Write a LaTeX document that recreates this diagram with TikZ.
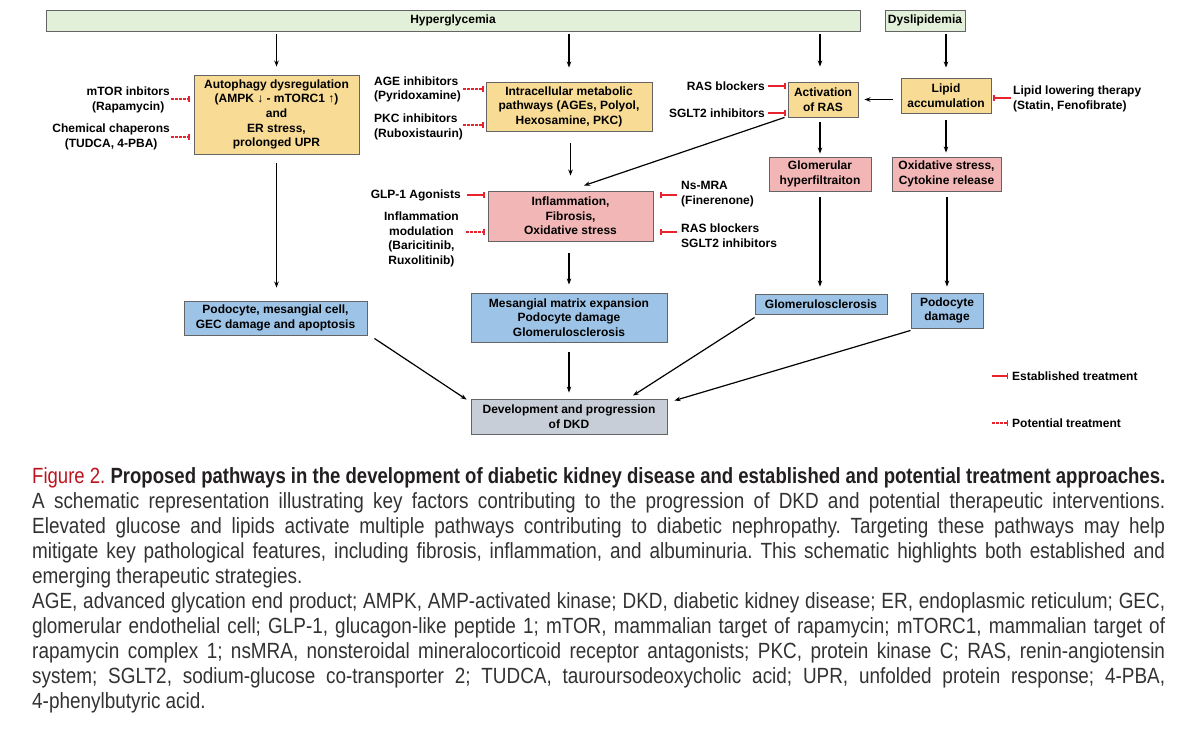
\documentclass[tikz,border=0pt]{standalone}
\usepackage{fontspec}
\setmainfont{Liberation Sans}
\usepackage{graphicx}
\usetikzlibrary{arrows.meta}
\definecolor{hgreen}{RGB}{226,240,217}
\definecolor{tanf}{RGB}{248,219,148}
\definecolor{pinkf}{RGB}{242,182,182}
\definecolor{bluef}{RGB}{157,195,230}
\definecolor{dkdf}{RGB}{200,206,216}
\definecolor{bordc}{RGB}{100,100,100}
\definecolor{inhred}{RGB}{232,35,45}
\definecolor{figred}{RGB}{190,20,30}
\definecolor{captxt}{RGB}{50,50,50}
\definecolor{titletxt}{RGB}{35,31,32}
\newcommand\dfont{\bfseries\fontsize{12}{14.6}\selectfont}
\newcommand\capf{\fontsize{22}{25}\selectfont\frenchspacing}
\newcommand\jline[1]{\scalebox{0.86}[1]{\makebox[1317.4pt][s]{#1}}}
\newcommand\nline[1]{\scalebox{0.86}[1]{#1}}
\begin{document}
\begin{tikzpicture}[x=1pt,y=-1pt,
  box/.style={draw=bordc, line width=0.9pt, inner sep=0pt, align=center, font=\dfont, text=black},
  lab/.style={inner sep=0pt, font=\dfont, text=black},
  arr/.style={draw=black, line width=1.2pt, -{Stealth[length=6pt,width=4.5pt]}},
  inh/.style={draw=inhred, line width=1.2pt, -{Bar[width=6pt,line width=1.2pt]}},
  inhd/.style={inh, dash pattern=on 2.5pt off 1.6pt},
  capnode/.style={inner sep=0pt, anchor=base west, font=\capf, text=captxt}]
\useasboundingbox[fill=white] (0,0) rectangle (1200,750);

% boxes
\node[box, fill=hgreen, minimum width=814pt, minimum height=21pt] (hyper) at (453,20.5) {Hyperglycemia};
\node[box, fill=hgreen, minimum width=80pt, minimum height=21pt] (dys) at (925,20.5) {Dyslipidemia};
\node[box, fill=tanf, minimum width=165pt, minimum height=79pt] (auto) at (276.5,114.5) {Autophagy dysregulation\\(AMPK ↓ - mTORC1 ↑)\\and\\ER stress,\\prolonged UPR};
\node[box, fill=tanf, minimum width=166pt, minimum height=49pt] (intra) at (569,106.5) {Intracellular metabolic\\pathways (AGEs, Polyol,\\Hexosamine, PKC)};
\node[box, fill=pinkf, minimum width=165pt, minimum height=50pt] (infl) at (570.5,216) {Inflammation,\\Fibrosis,\\Oxidative stress};
\node[box, fill=tanf, minimum width=70pt, minimum height=35pt] (ras) at (823,99.5) {Activation\\of RAS};
\node[box, fill=tanf, minimum width=90pt, minimum height=35pt] (lipid) at (946,95.5) {Lipid\\accumulation};
\node[box, fill=pinkf, minimum width=102pt, minimum height=34pt] (glom) at (820,174) {Glomerular\\hyperfiltraiton};
\node[box, fill=pinkf, minimum width=109pt, minimum height=34pt] (oxid) at (946.5,174) {Oxidative stress,\\Cytokine release};
\node[box, fill=bluef, minimum width=183pt, minimum height=34pt] (podo1) at (275.5,318) {Podocyte, mesangial cell,\\GEC damage and apoptosis};
\node[box, fill=bluef, minimum width=196pt, minimum height=49pt] (mesang) at (569,317.5) {Mesangial matrix expansion\\Podocyte damage\\Glomerulosclerosis};
\node[box, fill=bluef, minimum width=132pt, minimum height=20pt] (glscl) at (821,304) {Glomerulosclerosis};
\node[box, fill=bluef, minimum width=72pt, minimum height=35pt] (podo2) at (947,310.5) {Podocyte\\damage};
\node[box, fill=dkdf, minimum width=196pt, minimum height=35pt] (dkd) at (569,416.5) {Development and progression\\of DKD};

% treatment labels
\node[lab, align=center, anchor=east] (lMtor) at (170,100) {mTOR inbitors\\(Rapamycin)};
\node[lab, align=center, anchor=east] (lChem) at (170,137) {Chemical chaperons\\(TUDCA, 4-PBA)};
\node[lab, align=left, anchor=west] (lAge) at (374,89.5) {AGE inhibitors\\(Pyridoxamine)};
\node[lab, align=left, anchor=west] (lPkc) at (374,127) {PKC inhibitors\\(Ruboxistaurin)};
\node[lab, anchor=east] (lGlp) at (461,195) {GLP-1 Agonists};
\node[lab, align=center, anchor=east] (lInf) at (459,239.5) {Inflammation\\modulation\\(Baricitinib,\\Ruxolitinib)};
\node[lab, align=left, anchor=west] (lMra) at (681,194) {Ns-MRA\\(Finerenone)};
\node[lab, align=left, anchor=west] (lRb) at (681,235.5) {RAS blockers\\SGLT2 inhibitors};
\node[lab, anchor=east] (lRas) at (765,86) {RAS blockers};
\node[lab, anchor=east] (lSg) at (765,113) {SGLT2 inhibitors};
\node[lab, align=left, anchor=west] (lLip) at (1013,99) {Lipid lowering therapy\\(Statin, Fenofibrate)};

% black arrows
\draw[arr, shorten <=2.5pt, shorten >=8pt] (auto.north |- hyper.south) -- (auto.north);
\draw[arr, shorten <=2.5pt, shorten >=14pt] (intra.north |- hyper.south) -- (intra.north);
\draw[arr, shorten <=2.5pt, shorten >=15pt] (glom.north |- hyper.south) -- (glom.north |- ras.north);
\draw[arr, shorten <=2.5pt, shorten >=10pt] (lipid.north |- dys.south) -- (lipid.north);
\draw[arr, shorten <=9pt, shorten >=13pt] (auto.south) -- (podo1.north -| auto.south);
\draw[arr, shorten <=12pt, shorten >=15pt] (intra.south -| infl.north) -- (infl.north);
\draw[arr, shorten <=12pt, shorten >=8pt] (infl.south -| mesang.north) -- (mesang.north);
\draw[arr, shorten <=10pt, shorten >=6pt] (mesang.south) -- (dkd.north);
\draw[arr, shorten <=5pt, shorten >=3pt] (glom.north |- ras.south) -- (glom.north);
\draw[arr, shorten <=7pt, shorten >=4pt] (lipid.south) -- (lipid.south |- oxid.north);
\draw[arr, shorten <=6pt, shorten >=7pt] (glom.south) -- (glom.south |- glscl.north);
\draw[arr, shorten <=6pt, shorten >=6pt] (podo2.north |- oxid.south) -- (podo2.north);
\draw[arr, shorten <=8pt, shorten >=6pt] (lipid.west |- ras.east) -- (ras.east);
\draw[arr] ([xshift=-3pt]ras.south west) -- ([xshift=13.5pt,yshift=5pt]infl.north);
\draw[arr] ([xshift=7pt,yshift=-3pt]podo1.south east) -- ([xshift=-4pt,yshift=-1pt]dkd.north west);
\draw[arr] ([yshift=-3pt]glscl.south west) -- ([xshift=64pt,yshift=3pt]dkd.north);
\draw[arr] ([yshift=-2pt]podo2.south west) -- ([xshift=7pt,yshift=-2pt]dkd.north east);

% inhibitors
\coordinate (iMtor) at (171,99);
\coordinate (iChem) at (171,137);
\coordinate (iAge) at (463,89);
\coordinate (iPkc) at (463,125);
\coordinate (iGlp) at (467,195);
\coordinate (iInf) at (466,232);
\coordinate (iMra) at (677,195);
\coordinate (iRb) at (677,232);
\coordinate (iRas) at (768,86);
\coordinate (iSg) at (768,113);
\coordinate (iLip) at (1011,98);
\draw[inhd, shorten >=4pt] (iMtor) -- (iMtor -| auto.west);
\draw[inhd, shorten >=4pt] (iChem) -- (iChem -| auto.west);
\draw[inhd, shorten >=2pt] (iAge) -- (iAge -| intra.west);
\draw[inhd, shorten >=2pt] (iPkc) -- (iPkc -| intra.west);
\draw[inh, shorten >=3pt] (iGlp) -- (iGlp -| infl.west);
\draw[inhd, shorten >=3pt] (iInf) -- (iInf -| infl.west);
\draw[inh, shorten >=7pt] (iMra) -- (iMra -| infl.east);
\draw[inh, shorten >=7pt] (iRb) -- (iRb -| infl.east);
\draw[inh, shorten >=2pt] (iRas) -- (iRas -| ras.west);
\draw[inh, shorten >=2pt] (iSg) -- (iSg -| ras.west);
\draw[inh, shorten >=2pt] (iLip) -- (iLip -| lipid.east);

% legend
\node[lab, anchor=west] (estab) at (1012,376) {Established treatment};
\node[lab, anchor=west] (potent) at (1012,423) {Potential treatment};
\coordinate (legA) at (992,376);
\coordinate (legB) at (992,423);
\draw[inh, shorten >=4pt] (legA) -- (legA -| estab.west);
\draw[inhd, shorten >=4pt] (legB) -- (legB -| potent.west);

% caption
\node[capnode, text=titletxt] (c0) at (32,483) {\resizebox{1133pt}{\height}{\textcolor{figred}{Figure 2.} \bfseries Proposed pathways in the development of diabetic kidney disease and established and potential treatment approaches.}};
\node[capnode] (c1) at (32,508) {\jline{A schematic representation illustrating key factors contributing to the progression of DKD and potential therapeutic interventions.}};
\node[capnode] (c2) at (32,533) {\jline{Elevated glucose and lipids activate multiple pathways contributing to diabetic nephropathy. Targeting these pathways may help}};
\node[capnode] (c3) at (32,558) {\jline{mitigate key pathological features, including fibrosis, inflammation, and albuminuria. This schematic highlights both established and}};
\node[capnode] (c4) at (32,583) {\nline{emerging therapeutic strategies.}};
\node[capnode] (c5) at (32,608) {\jline{AGE, advanced glycation end product; AMPK, AMP-activated kinase; DKD, diabetic kidney disease; ER, endoplasmic reticulum; GEC,}};
\node[capnode] (c6) at (32,633) {\jline{glomerular endothelial cell; GLP-1, glucagon-like peptide 1; mTOR, mammalian target of rapamycin; mTORC1, mammalian target of}};
\node[capnode] (c7) at (32,658) {\jline{rapamycin complex 1; nsMRA, nonsteroidal mineralocorticoid receptor antagonists; PKC, protein kinase C; RAS, renin-angiotensin}};
\node[capnode] (c8) at (32,683) {\jline{system; SGLT2, sodium-glucose co-transporter 2; TUDCA, tauroursodeoxycholic acid; UPR, unfolded protein response; 4-PBA,}};
\node[capnode] (c9) at (32,708) {\nline{4-phenylbutyric acid.}};
\end{tikzpicture}
\end{document}
